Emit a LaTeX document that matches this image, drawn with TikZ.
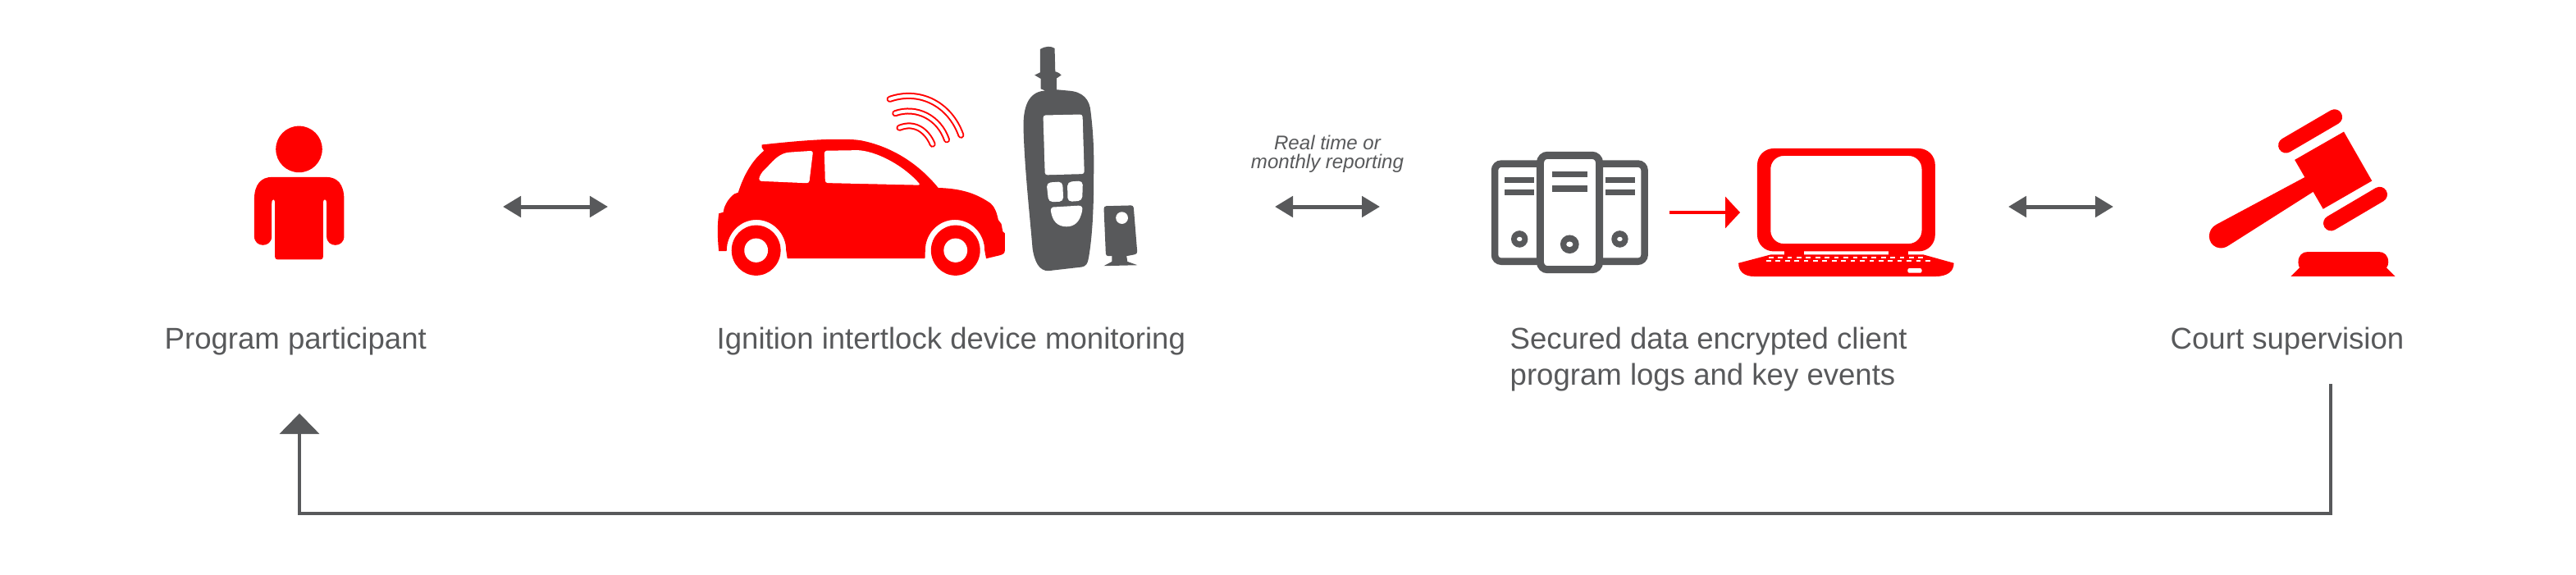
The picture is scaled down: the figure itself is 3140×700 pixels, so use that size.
\documentclass[tikz,border=0pt]{standalone}
\usepackage{fontspec}
\setmainfont{Liberation Sans}
\usetikzlibrary{arrows.meta}
\definecolor{darkgrey}{HTML}{58595B}
\definecolor{brightred}{HTML}{FF0000}
\tikzset{
	label/.style = {anchor=base west, inner sep=0pt, text=darkgrey, font=\fontsize{10.4pt}{12.5pt}\selectfont},
	notelabel/.style = {anchor=base, inner sep=0pt, text=darkgrey, font=\fontsize{6.85pt}{6.85pt}\selectfont\itshape},
	twoway/.style = {draw=darkgrey, line width=.05cm, {Triangle[length=.22cm,width=.25cm]}-{Triangle[length=.22cm,width=.25cm]}},
	icon/.style = {x=.00333cm, y=-.00333cm},
	radio/.style = {line cap=round, line width=.08cm, draw=brightred},
	radiocore/.style = {line cap=round, line width=.04cm, draw=white}
}

\begin{document}
\begin{tikzpicture}[x=.01cm, y=-.01cm]
	\useasboundingbox (0,0) rectangle (3140,700);

	% participant
	\begin{scope}[shift={(260,130)}, icon]
		\fill[brightred] (314,156) circle[radius=85];
		\fill[brightred, rounded corners=.03cm] (226,400) -- (402,400) -- (402,560) -- (226,560) -- cycle;
		\fill[brightred] (150,340) .. controls (150,285) and (175,258) .. (215,258) -- (414,258)
			.. controls (455,258) and (479,285) .. (479,340) -- (479,475)
			.. controls (479,518) and (415,518) .. (415,475) -- (415,355)
			.. controls (415,335) and (402,335) .. (402,355) -- (402,500) -- (226,500) -- (226,355)
			.. controls (226,335) and (214,335) .. (214,355) -- (214,475)
			.. controls (214,518) and (150,518) .. (150,475) -- cycle;
	\end{scope}

	% car
	\begin{scope}[shift={(840,40)}, x=.0037cm, y=-.00333cm]
		\fill[brightred] (240,410) .. controls (320,400) and (420,390) .. (480,390)
			.. controls (520,390) and (545,390) .. (570,395)
			.. controls (680,420) and (765,490) .. (822,568)
			.. controls (900,570) and (950,590) .. (995,625)
			.. controls (1010,640) and (1015,660) .. (1020,685)
			-- (1030,700) -- (1035,728) -- (1042,735) -- (1042,795)
			.. controls (1042,808) and (1035,812) .. (1025,815) -- (980,827)
			-- (975,797) arc[start angle=0, end angle=-180, x radius=98, y radius=112]
			-- (778,827) -- (324,827) -- (320,797)
			arc[start angle=0, end angle=-180, x radius=98, y radius=112]
			-- (122,800) -- (98,800) .. controls (93,750) and (93,700) .. (98,662) -- (113,657)
			.. controls (115,630) and (135,600) .. (150,590) -- (162,585)
			.. controls (180,520) and (210,465) .. (247,432) -- (240,420) -- cycle;
		\fill[white, rounded corners=.03cm] (409,432) -- (340,437) .. controls (300,440) and (280,465) .. (255,495)
			.. controls (240,510) and (232,525) .. (230,543) -- (396,551) -- cycle;
		\fill[white, rounded corners=.03cm] (446,432) -- (560,430) .. controls (630,440) and (710,490) .. (764,558)
			-- (449,550) -- cycle;
		\foreach \wx in {221,879} {
			\fill[brightred] (\wx,797) ellipse[x radius=81, y radius=92];
			\fill[white] (\wx,797) ellipse[x radius=39, y radius=44];
		}
		\foreach \ax/\ay/\bx/\by/\cx/\cy/\ex/\ey in {662/243/760/205/860/260/897/375, 680/295/750/268/825/310/850/392, 694/348/745/325/785/360/803/408} {
			\draw[radio] (\ax,\ay) .. controls (\bx,\by) and (\cx,\cy) .. (\ex,\ey);
			\draw[radiocore] (\ax,\ay) .. controls (\bx,\by) and (\cx,\cy) .. (\ex,\ey);
		}

		% handset
		\fill[darkgrey] (1158,60) .. controls (1175,48) and (1195,48) .. (1206,57) -- (1208,142)
			.. controls (1218,145) and (1225,150) .. (1228,155) -- (1212,167) -- (1212,208)
			-- (1250,212) .. controls (1300,215) and (1322,245) .. (1325,290)
			.. controls (1335,380) and (1336,450) .. (1335,520) .. controls (1335,650) and (1330,750) .. (1318,825)
			.. controls (1315,845) and (1310,855) .. (1295,858) -- (1185,872)
			.. controls (1155,872) and (1140,840) .. (1133,790)
			.. controls (1125,680) and (1105,480) .. (1103,340)
			.. controls (1103,260) and (1125,215) .. (1175,212) -- (1160,205) -- (1160,168)
			-- (1140,155) -- (1158,145) -- cycle;
		\fill[white, rounded corners=.03cm] (1168,302) -- (1298,299) -- (1304,517) -- (1174,521) -- cycle;
		\fill[white, rounded corners=.05cm] (1179,549) -- (1232,545) -- (1235,618) -- (1186,620) -- cycle;
		\fill[white, rounded corners=.05cm] (1248,546) -- (1299,542) -- (1297,615) -- (1249,619) -- cycle;
		\fill[white] (1193,650) .. controls (1195,638) and (1200,638) .. (1210,638) -- (1285,633)
			.. controls (1295,633) and (1299,640) .. (1297,650)
			.. controls (1290,695) and (1270,710) .. (1245,710)
			.. controls (1215,710) and (1198,690) .. (1193,650);
		\fill[darkgrey, rounded corners=.03cm] (1368,635) -- (1466,632) -- (1479,810) -- (1443,818) -- (1375,818) -- cycle;
		\fill[darkgrey] (1395,815) -- (1443,815) -- (1446,838) -- (1479,851) -- (1368,854) -- (1395,838) -- cycle;
		\fill[white] (1428,678) ellipse[x radius=20, y radius=22];
	\end{scope}

	% servers and laptop
	\begin{scope}[shift={(1780,160)}, x=.00408cm, y=-.00333cm]
		\draw[darkgrey, fill=white, line width=.085cm, rounded corners=.08cm] (103,119) rectangle (551,477);
		\draw[darkgrey, fill=white, line width=.09cm, rounded corners=.09cm] (239,88) rectangle (416,507);
		\foreach \bx/\bw/\by/\bz in {133/88/168/213, 434/88/168/213, 275/105/146/199} {
			\fill[darkgrey] (\bx,\by) rectangle ++(\bw,22);
			\fill[darkgrey] (\bx,\bz) rectangle ++(\bw,22);
		}
		\foreach \dx/\dy/\dr/\dh in {177/395/25/8, 477/395/25/8, 327/414/28/10} {
			\fill[darkgrey] (\dx,\dy) ellipse[x radius=\dr, y radius=\dr+6];
			\fill[white] (\dx,\dy) circle[radius=\dh];
		}
		\fill[brightred, even odd rule] [rounded corners=.2cm] (888,63) rectangle (1420,440)
			[rounded corners=.16cm] (928,90) rectangle (1380,412);
		\fill[brightred] (968,430) rectangle (1028,455);
		\fill[brightred] (1280,430) rectangle (1340,455);
		\fill[brightred] (928,452) -- (1385,452) -- (1476,483)
			.. controls (1476,515) and (1455,532) .. (1420,532) -- (880,532)
			.. controls (850,532) and (832,515) .. (832,483) -- cycle;
		\foreach \kx in {0,...,16} {
			\fill[white] (922+28*\kx,459) rectangle ++(14,6);
		}
		\foreach \kx in {0,...,17} {
			\fill[white] (915+28*\kx,471) rectangle ++(14,6);
		}
		\fill[white, rounded corners=.02cm] (1338,502) rectangle (1380,519);
	\end{scope}

	% gavel
	\begin{scope}[shift={(2640,110)}, icon]
		\fill[brightred] (472,255) -- (652,152) -- (755,332) -- (576,435) -- cycle;
		\fill[brightred] (510,318) -- (185,492) .. controls (150,510) and (150,560) .. (185,575)
			.. controls (205,583) and (220,575) .. (228,570) -- (543,370) -- cycle;
		\draw[brightred, line width=.187cm, line cap=round] (440,202) -- (618,98);
		\draw[brightred, line width=.187cm, line cap=round] (605,487) -- (783,382);
		\fill[brightred] (485,630) .. controls (485,605) and (500,592) .. (520,592) -- (780,592)
			.. controls (800,592) and (815,605) .. (815,630) .. controls (815,640) and (812,645) .. (808,650)
			-- (840,682) -- (458,682) -- (490,650) .. controls (487,645) and (485,640) .. (485,630);
	\end{scope}

	\node[label] (participant) at (200,425) {Program participant};
	\node[label] (device) at (873,425) {Ignition intertlock device monitoring};
	\node[label] (dataone) at (1840,425) {Secured data encrypted client};
	\node[label] (datatwo) at (1840,469) {program logs and key events};
	\node[label] (court) at (2645,425) {Court supervision};
	\node[notelabel] (noteone) at (1618,182) {Real time or};
	\node[notelabel] (notetwo) at (1618,205) {monthly reporting};

	\coordinate (personright) at (613,252);
	\coordinate (carleft) at (741,252);
	\coordinate (devright) at (1554,252);
	\coordinate (serverleft) at (1682,252);
	\coordinate (laptopright) at (2448,252);
	\coordinate (gavelleft) at (2576,252);
	\coordinate (serverright) at (2035,259);
	\coordinate (laptopleft) at (2121,259);
	\coordinate (courtfoot) at (2841,468);
	\coordinate (rightcorner) at (2841,626);
	\coordinate (leftcorner) at (365,626);
	\coordinate (personfoot) at (365,504);

	\draw[twoway] (personright) -- (carleft);
	\draw[twoway] (devright) -- (serverleft);
	\draw[twoway] (laptopright) -- (gavelleft);
	\draw[brightred, line width=.033cm, -{Triangle[length=.18cm,width=.38cm]}] (serverright) -- (laptopleft);
	\draw[darkgrey, line width=.038cm, -{Triangle[length=.25cm,width=.48cm]}] (courtfoot) -- (rightcorner) -- (leftcorner) -- (personfoot);
\end{tikzpicture}
\end{document}
